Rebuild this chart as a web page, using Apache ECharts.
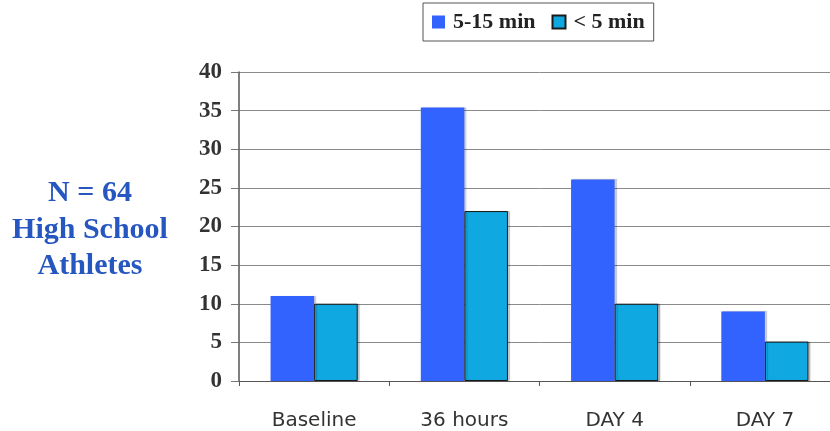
<!DOCTYPE html>
<html><head><meta charset="utf-8">
<script src="https://cdn.jsdelivr.net/npm/echarts@6/dist/echarts.min.js"></script>
<style>html,body{margin:0;padding:0;background:#fff;overflow:hidden}#c{width:840px;height:431px}</style>
</head><body><div id="c"></div>
<script>
const categories = ['Baseline', '36 hours', 'DAY 4', 'DAY 7'];
const seriesNames = ['5-15 min', '< 5 min'];
const longer = [11, 35.4, 26.1, 9];
const shorter = [10, 22, 10, 5.1];
const yTicks = [0, 5, 10, 15, 20, 25, 30, 35, 40];
const sideNote = ['N = 64', 'High School', 'Athletes'];

const chart = echarts.init(document.getElementById('c'), null, {renderer: 'canvas'});
chart.setOption({
  animation: false,
  backgroundColor: '#fff',
  grid: {left: 239, right: 0, top: 72, bottom: 50, containLabel: false},
  legend: {
    top: 3, left: 423,
    data: seriesNames,
    itemWidth: 13, itemHeight: 13, itemGap: 16,
    padding: [8, 9, 8, 9],
    borderColor: '#555', borderWidth: 1,
    textStyle: {fontFamily: 'Liberation Serif', fontWeight: 'bold', fontSize: 22, color: '#222', padding: [0, 0, 0, 3]},
    icon: 'rect'
  },
  graphic: [{
    type: 'text', x: 90, y: 175,
    style: {
      text: sideNote.join('\n'), textAlign: 'center',
      font: 'bold 30px "Liberation Serif"', fill: '#2656C0', lineHeight: 36.5
    }
  }],
  xAxis: {
    type: 'category', data: categories,
    axisLine: {lineStyle: {color: '#555', width: 1}},
    axisTick: {show: true, length: 5, lineStyle: {color: '#555'}},
    axisLabel: {fontFamily: 'DejaVu Sans', fontSize: 20, color: '#333', margin: 30}
  },
  yAxis: {
    type: 'value', min: 0, max: 40, interval: 5,
    axisLine: {show: true, lineStyle: {color: '#555', width: 1.5}},
    axisTick: {show: true, length: 8, inside: false, lineStyle: {color: '#777'}},
    splitLine: {lineStyle: {color: '#8a8a8a', width: 1}},
    axisLabel: {fontFamily: 'Liberation Serif', fontWeight: 'bold', fontSize: 23, color: '#333', margin: 17,
      formatter: v => yTicks.includes(v) ? String(v) : ''}
  },
  series: [
    {name: seriesNames[0], type: 'bar', data: longer, barGap: '0%', barCategoryGap: '42%',
      itemStyle: {color: '#3363FF', shadowColor: 'rgba(0,0,0,0.2)', shadowOffsetX: 2, shadowOffsetY: 0, shadowBlur: 1}},
    {name: seriesNames[1], type: 'bar', data: shorter,
      itemStyle: {color: '#10A8E0', borderColor: '#1a1a1a', borderWidth: 1, shadowColor: 'rgba(0,0,0,0.2)', shadowOffsetX: 2, shadowBlur: 1}}
  ]
});
</script></body></html>
